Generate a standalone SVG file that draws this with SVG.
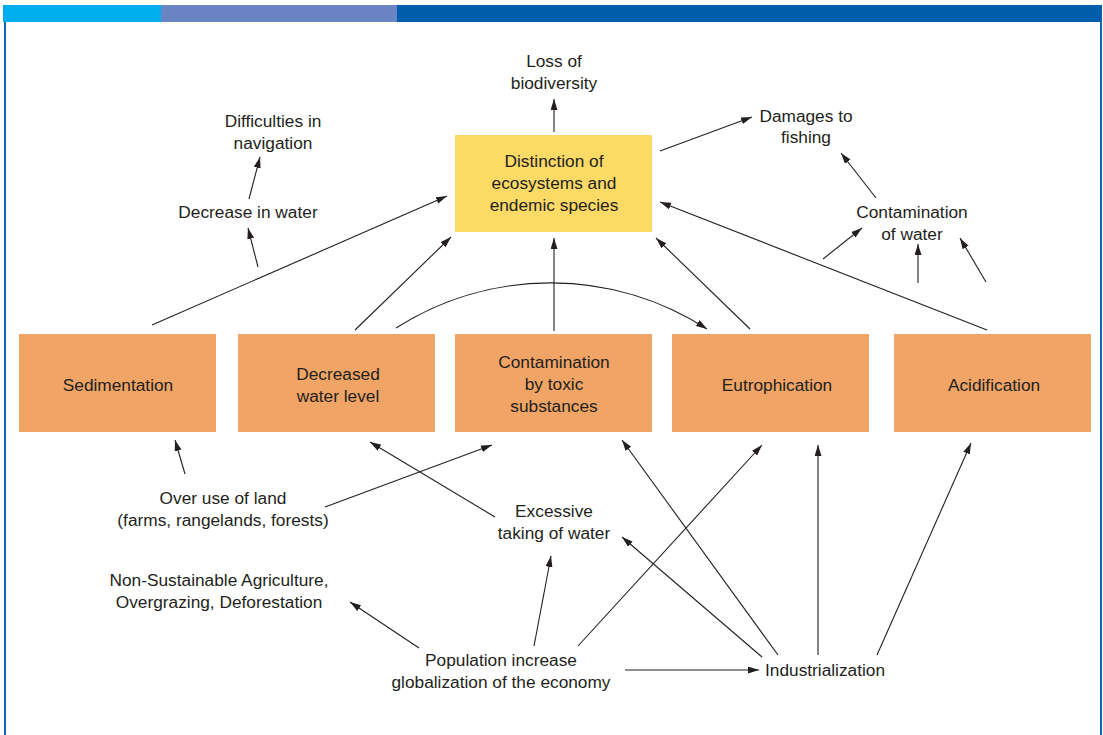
<svg xmlns="http://www.w3.org/2000/svg" width="1103" height="735" viewBox="0 0 1103 735">
<defs>
<marker id="ah" markerUnits="userSpaceOnUse" markerWidth="12" markerHeight="8" refX="11" refY="3.5" orient="auto">
<path d="M0,0 L11,3.5 L0,7 z" fill="#231f20"/>
</marker>
<style>
text{font-family:"Liberation Sans",Arial,sans-serif;font-size:17.3px;fill:#231f20;text-anchor:middle}
.box{fill:#f0a465}
.ybox{fill:#fdd966}
.c line,.c path{stroke:#231f20;stroke-width:1.1;fill:none;marker-end:url(#ah)}
</style>
</defs>
<rect x="0" y="0" width="1103" height="735" fill="#ffffff"/>
<g id="frame">
<rect x="3" y="5" width="159" height="17" fill="#00aeef"/>
<rect x="161" y="5" width="237" height="17" fill="#6a84c4"/>
<rect x="397" y="5" width="705" height="17" fill="#005ead"/>
<line x1="5" y1="22" x2="5" y2="735" stroke="#1565b7" stroke-width="2"/>
<line x1="1101" y1="22" x2="1101" y2="735" stroke="#1565b7" stroke-width="2"/>
</g>
<g id="connectors" class="c">
<line x1="554" y1="132" x2="554" y2="99"/>
<line x1="660" y1="151" x2="752" y2="117"/>
<line x1="249" y1="199" x2="260" y2="157"/>
<line x1="258" y1="267" x2="248" y2="228"/>
<line x1="152" y1="325" x2="447" y2="196"/>
<line x1="355" y1="330" x2="451" y2="237"/>
<path d="M396,328 A288,288 0 0 1 707,329"/>
<line x1="554" y1="331" x2="554" y2="238"/>
<line x1="750" y1="329" x2="656" y2="238"/>
<line x1="987" y1="330" x2="660" y2="202"/>
<line x1="876" y1="198" x2="841" y2="153"/>
<line x1="823" y1="259" x2="862" y2="228"/>
<line x1="918" y1="283" x2="918" y2="244"/>
<line x1="986" y1="282" x2="960" y2="238"/>
<line x1="185" y1="474" x2="175" y2="440"/>
<line x1="325" y1="507" x2="492" y2="445"/>
<line x1="495" y1="517" x2="370" y2="442"/>
<line x1="419" y1="648" x2="350" y2="602"/>
<line x1="534" y1="646" x2="551" y2="556"/>
<line x1="578" y1="646" x2="762" y2="445"/>
<line x1="625" y1="670" x2="759" y2="670"/>
<line x1="762" y1="657" x2="622" y2="537"/>
<line x1="778" y1="655" x2="622" y2="440"/>
<line x1="818" y1="655" x2="818" y2="445"/>
<line x1="877" y1="655" x2="971" y2="443"/>
</g>
<g id="n-loss"><text x="554" y="67">Loss of</text><text x="554" y="89">biodiversity</text></g>
<g id="n-distinction"><rect class="ybox" x="455" y="135" width="197" height="97"/>
<text x="554" y="167">Distinction of</text><text x="554" y="189">ecosystems and</text><text x="554" y="211">endemic species</text></g>
<g id="n-difficulties"><text x="273" y="127">Difficulties in</text><text x="273" y="149">navigation</text></g>
<g id="n-decrease"><text x="248" y="218">Decrease in water</text></g>
<g id="n-damages"><text x="806" y="122">Damages to</text><text x="806" y="143">fishing</text></g>
<g id="n-contwater"><text x="912" y="218">Contamination</text><text x="912" y="240">of water</text></g>
<g id="n-sedimentation"><rect class="box" x="19" y="334" width="197" height="98"/><text x="118" y="391">Sedimentation</text></g>
<g id="n-decreased"><rect class="box" x="238" y="334" width="197" height="98"/><text x="338" y="380">Decreased</text><text x="338" y="402">water level</text></g>
<g id="n-toxic"><rect class="box" x="455" y="334" width="197" height="98"/><text x="554" y="368">Contamination</text><text x="554" y="390">by toxic</text><text x="554" y="412">substances</text></g>
<g id="n-eutrophication"><rect class="box" x="672" y="334" width="197" height="98"/><text x="777" y="391">Eutrophication</text></g>
<g id="n-acidification"><rect class="box" x="894" y="334" width="197" height="98"/><text x="994" y="391">Acidification</text></g>
<g id="n-overuse"><text x="223" y="504">Over use of land</text><text x="223" y="526">(farms, rangelands, forests)</text></g>
<g id="n-excessive"><text x="554" y="517">Excessive</text><text x="554" y="539">taking of water</text></g>
<g id="n-nonsust"><text x="219" y="586">Non-Sustainable Agriculture,</text><text x="219" y="608">Overgrazing, Deforestation</text></g>
<g id="n-population"><text x="501" y="666">Population increase</text><text x="501" y="688">globalization of the economy</text></g>
<g id="n-industrialization"><text x="765" y="676" style="text-anchor:start">Industrialization</text></g>
</svg>
